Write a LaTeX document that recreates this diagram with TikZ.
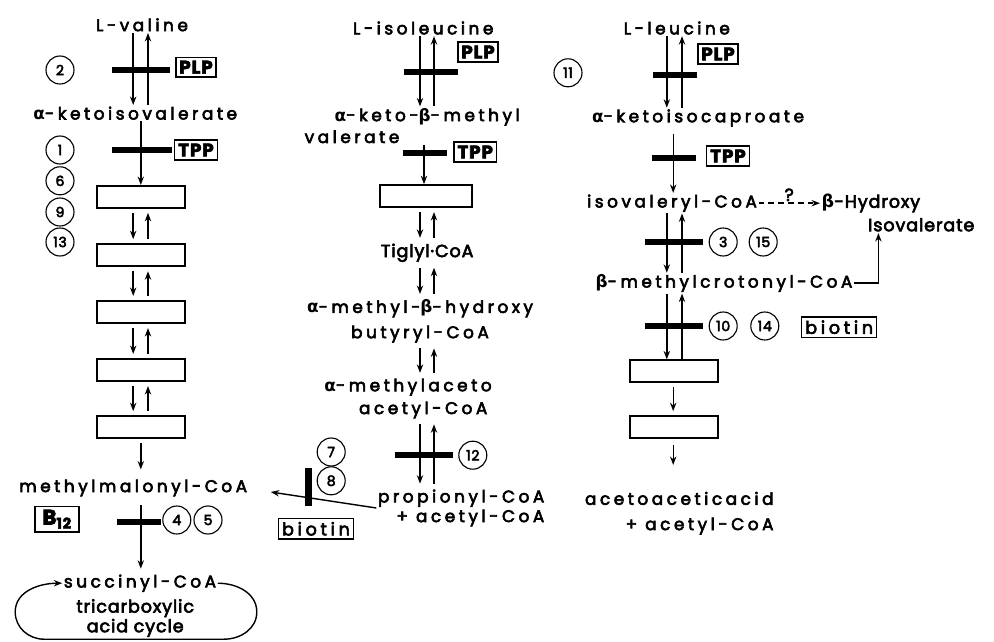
\documentclass[tikz,border=0pt]{standalone}
\usepackage{fontspec}
\setmainfont{Poppins}[LetterSpace=5, FakeBold=3.5]
\newfontfamily\widefont{Poppins}[LetterSpace=21, FakeBold=3.5]
\newfontfamily\grkfont{DejaVu Sans}
\usetikzlibrary{arrows.meta, positioning, calc}
\newcommand{\galpha}{{\grkfont\bfseries α}}
\newcommand{\gbeta}{{\grkfont\bfseries β}}

\begin{document}
\begin{tikzpicture}[
    met/.style = {font=\widefont\fontsize{12}{14}\selectfont, inner sep=1pt},
    mettight/.style = {font=\fontsize{12.5}{14}\selectfont, inner sep=1pt},
    cofactor/.style = {draw, line width=1pt, font=\bfseries\fontsize{13}{15}\selectfont, inner sep=2.5pt},
    enzyme/.style = {circle, draw, line width=0.8pt, minimum size=0.7cm, inner sep=0pt, font=\fontsize{10}{12}\selectfont},
    blank/.style = {rectangle, draw, line width=1.2pt, minimum width=2.2cm, minimum height=0.55cm},
    blockbar/.style = {fill=black, inner sep=0pt, minimum height=0.15cm},
    rxn/.style = {-{Stealth[length=6pt,width=4.5pt]}, line width=1pt},
    pair/.style = {rxn, shorten <=3pt, shorten >=3pt}
]
\useasboundingbox (0,0) rectangle (24.85,-16.05);

% Arrow lanes
\coordinate (vL) at (3.33,0);
\coordinate (vR) at (3.70,0);
\coordinate (vC) at (3.52,0);
\coordinate (iL) at (10.50,0);
\coordinate (iR) at (10.85,0);
\coordinate (iC) at (10.60,0);
\coordinate (lL) at (16.67,0);
\coordinate (lR) at (17.05,0);
\coordinate (lC) at (16.83,0);

% L-valine
\node (val) [met] at (3.55,-0.62) {L-valine};
\node (kiv) [met] at (3.38,-2.83) {\galpha-ketoisovalerate};
\node (vb1) [blank] at (3.52,-4.92) {};
\node (vb2) [blank] at (3.52,-6.38) {};
\node (vb3) [blank] at (3.52,-7.80) {};
\node (vb4) [blank] at (3.52,-9.25) {};
\node (vb5) [blank] at (3.52,-10.68) {};
\node (mm) [met] at (3.33,-12.20) {methylmalonyl-CoA};
\node (suc) [met] at (3.50,-14.58) {succinyl-CoA};
\node (tca) [mettight, align=center] at (3.38,-15.45) {tricarboxylic\\acid cycle};

\node (vbar1) [blockbar, minimum width=1.45cm] at (3.52,-1.75) {};
\node (vbar2) [blockbar, minimum width=1.50cm] at (3.55,-3.75) {};
\node (vbar3) [blockbar, minimum width=1.10cm] at (3.48,-13.05) {};
\node (vplp) [cofactor] at (4.90,-1.68) {PLP};
\node (vtpp) [cofactor] at (4.90,-3.75) {TPP};
\node (b12) [cofactor, minimum width=1.1cm, minimum height=0.58cm, font=\bfseries\fontsize{15}{17}\selectfont] at (1.43,-12.98) {B\textsubscript{12}};

\node (e2) [enzyme] at (1.50,-1.75) {2};
\node (e1) [enzyme] at (1.50,-3.75) {1};
\node (e6) [enzyme] at (1.50,-4.52) {6};
\node (e9) [enzyme] at (1.50,-5.30) {9};
\node (e13) [enzyme] at (1.50,-6.05) {13};
\node (e4) [enzyme] at (4.42,-13.00) {4};
\node (e5) [enzyme] at (5.20,-13.00) {5};

\draw [rxn] (val.south -| vL) -- (kiv.north -| vL);
\draw [rxn] (kiv.north -| vR) -- (val.south -| vR);
\draw [rxn] (kiv.south -| vC) -- (vb1.north -| vC);
\draw [pair] (vb1.south -| vL) -- (vb2.north -| vL);
\draw [pair] (vb2.north -| vR) -- (vb1.south -| vR);
\draw [pair] (vb2.south -| vL) -- (vb3.north -| vL);
\draw [pair] (vb3.north -| vR) -- (vb2.south -| vR);
\draw [pair] (vb3.south -| vL) -- (vb4.north -| vL);
\draw [pair] (vb4.north -| vR) -- (vb3.south -| vR);
\draw [pair] (vb4.south -| vL) -- (vb5.north -| vL);
\draw [pair] (vb5.north -| vR) -- (vb4.south -| vR);
\draw [rxn, shorten <=3pt, shorten >=6pt] (vb5.south -| vC) -- (mm.north -| vC);
\draw [rxn, shorten <=5pt, shorten >=3pt] (mm.south -| vC) -- (suc.north -| vC);
\draw [rxn] (suc.east) to[out=0, in=90] (6.42,-15.30) to[out=-90, in=0] (5.60,-15.98)
    -- (1.10,-15.98) to[out=180, in=-90] (0.38,-15.30) to[out=90, in=180] (suc.west);

% L-isoleucine
\node (ile) [met] at (10.58,-0.70) {L-isoleucine};
\node (kmv) [met] at (10.68,-2.92) {\galpha-keto-\gbeta-methyl};
\node (kmvb) [met] at (8.80,-3.42) {valerate};
\node (ib1) [blank, minimum width=2.3cm] at (10.65,-4.90) {};
\node (tig) [mettight] at (10.68,-6.32) {Tiglyl·CoA};
\node (mbh) [met, align=center] at (10.50,-8.03) {\galpha-methyl-\gbeta-hydroxy\\[4pt]butyryl-CoA};
\node (mac) [met] at (10.20,-9.68) {\galpha-methylaceto};
\node (macb) [met] at (10.58,-10.25) {acetyl-CoA};
\node (prop) [met, align=right, anchor=east] at (13.65,-12.70) {propionyl-CoA\\+ acetyl-CoA};

\node (ibar1) [blockbar, minimum width=1.35cm] at (10.78,-1.80) {};
\node (ibar2) [blockbar, minimum width=1.10cm] at (10.62,-3.82) {};
\node (ibar3) [blockbar, minimum width=1.45cm] at (10.60,-11.38) {};
\node (ibar4) [blockbar, minimum width=0.18cm, minimum height=0.95cm] at (7.72,-12.18) {};
\node (iplp) [cofactor] at (11.95,-1.30) {PLP};
\node (itpp) [cofactor] at (11.88,-3.80) {TPP};
\node (ibio) [cofactor, font=\widefont\fontsize{12.5}{14}\selectfont] at (7.90,-13.22) {biotin};

\node (e12) [enzyme] at (11.82,-11.38) {12};
\node (e7) [enzyme] at (8.28,-11.30) {7};
\node (e8) [enzyme] at (8.28,-12.02) {8};

\draw [rxn] (ile.south -| iL) -- (kmv.north -| iL);
\draw [rxn] (kmv.north -| iR) -- (ile.south -| iR);
\draw [rxn] (kmvb.south -| iC) -- (ib1.north -| iC);
\draw [pair] (ib1.south -| iL) -- (tig.north -| iL);
\draw [pair] (tig.north -| iR) -- (ib1.south -| iR);
\draw [pair] (tig.south -| iL) -- (mbh.north -| iL);
\draw [pair] (mbh.north -| iR) -- (tig.south -| iR);
\draw [pair] (mbh.south -| iL) -- (mac.north -| iL);
\draw [pair] (mac.north -| iR) -- (mbh.south -| iR);
\draw [pair] (macb.south -| iL) -- (prop.north -| iL);
\draw [pair] (prop.north -| iR) -- (macb.south -| iR);
\draw [rxn] (prop.west) -- ([xshift=0.55cm, yshift=-0.1cm]mm.east);

% L-leucine
\node (leu) [met] at (16.92,-0.70) {L-leucine};
\node (kic) [met] at (17.45,-2.95) {\galpha-ketoisocaproate};
\node (ivc) [met] at (16.80,-5.08) {isovaleryl-CoA};
\node (bhx) [mettight, anchor=west] at (20.50,-5.08) {\gbeta-Hydroxy};
\node (iso) [mettight, anchor=east] at (24.40,-5.62) {Isovalerate};
\node (mcc) [met] at (18.10,-7.08) {\gbeta-methylcrotonyl-CoA};
\node (lb1) [blank] at (16.85,-9.28) {};
\node (lb2) [blank] at (16.85,-10.68) {};
\node (aaa) [met, align=right, anchor=east] at (19.38,-12.83) {acetoaceticacid\\[4pt]+ acetyl-CoA};

\node (lbar1) [blockbar, minimum width=1.10cm] at (16.88,-1.88) {};
\node (lbar2) [blockbar, minimum width=1.12cm] at (16.85,-3.95) {};
\node (lbar3) [blockbar, minimum width=1.45cm] at (16.85,-6.05) {};
\node (lbar4) [blockbar, minimum width=1.45cm] at (16.85,-8.15) {};
\node (lplp) [cofactor] at (17.95,-1.35) {PLP};
\node (ltpp) [cofactor] at (18.20,-3.90) {TPP};
\node (lbio) [cofactor, font=\widefont\fontsize{12.5}{14}\selectfont] at (20.98,-8.18) {biotin};

\node (e11) [enzyme] at (14.20,-1.82) {11};
\node (e3) [enzyme] at (18.08,-6.05) {3};
\node (e15) [enzyme] at (19.08,-6.05) {15};
\node (e10) [enzyme] at (18.08,-8.15) {10};
\node (e14) [enzyme] at (19.12,-8.15) {14};

\draw [rxn] (leu.south -| lL) -- (kic.north -| lL);
\draw [rxn] (kic.north -| lR) -- (leu.south -| lR);
\draw [rxn, shorten <=4pt] (kic.south -| lC) -- (ivc.north -| lC);
\draw [rxn] (ivc.south -| lL) -- (mcc.north -| lL);
\draw [rxn] (mcc.north -| lR) -- (ivc.south -| lR);
\draw [rxn] (mcc.south -| lL) -- (lb1.north -| lL);
\draw [rxn] (lb1.north -| lR) -- (mcc.south -| lR);
\draw [pair] (lb1.south -| lC) -- (lb2.north -| lC);
\draw [rxn, shorten <=4pt, shorten >=18pt] (lb2.south -| lC) -- (aaa.north -| lC);
\draw [rxn, dashed, dash pattern=on 4pt off 3pt] (ivc.east) -- node[above, mettight] {?} (bhx.west);
\draw [rxn] (mcc.east) -| ([xshift=0.3cm]iso.south west);

\end{tikzpicture}
\end{document}
